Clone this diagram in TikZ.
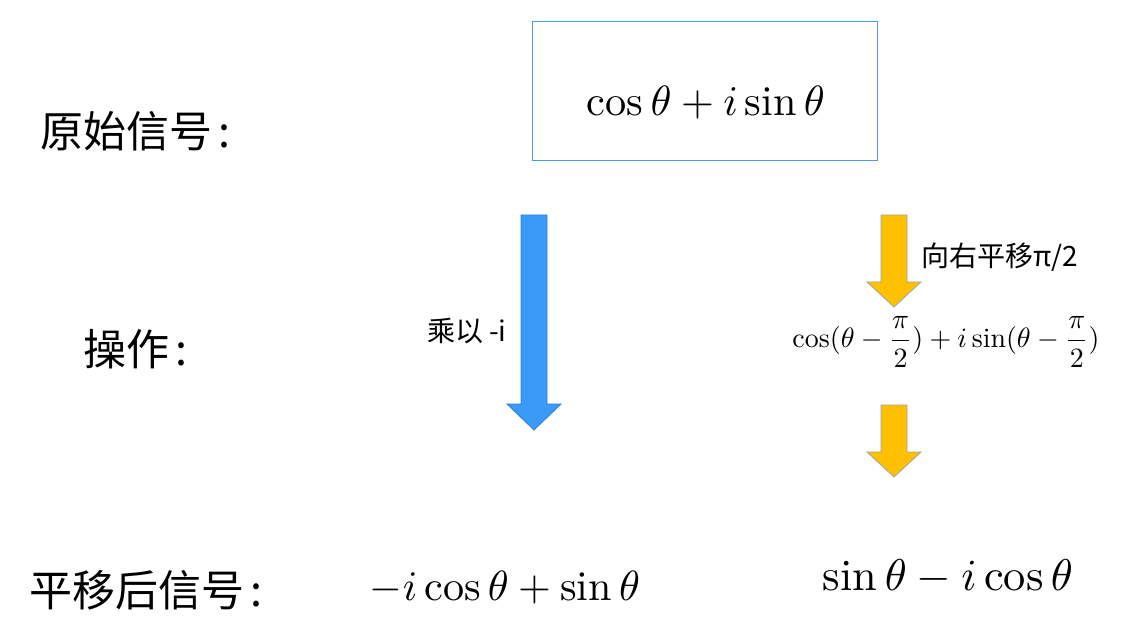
\documentclass[tikz,border=0pt]{standalone}
\usepackage{fontspec}
\newfontfamily\cjk{Noto Sans CJK SC}
\usepackage{graphicx}
\definecolor{boxblue}{HTML}{4A9AF0}
\definecolor{arrblue}{HTML}{3A9AF8}
\definecolor{arrblueedge}{HTML}{2F7FD6}
\definecolor{arryellow}{HTML}{FFC000}
\definecolor{arryellowedge}{HTML}{9AA5B1}
\newcommand{\lblcolon}{\hspace{7pt}:}
\begin{document}
\begin{tikzpicture}[x=1pt,y=-1pt,
  every node/.style={inner sep=0pt, outer sep=0pt},
  biglabel/.style={anchor=west, font=\cjk\fontsize{43}{48}\selectfont},
  smalllabel/.style={anchor=west, font=\cjk\fontsize{28}{32}\selectfont},
  blockblue/.style={fill=arrblue, draw=arrblueedge, line width=0.8pt, line join=miter},
  blockyellow/.style={fill=arryellow, draw=arryellowedge, line width=0.8pt, line join=miter},
  signalbox/.style={draw=boxblue, line width=1pt, minimum width=345pt, minimum height=139pt}
]
\useasboundingbox (0,0) rectangle (1130,636);

% labels on the left
\node[biglabel] (l1) at (40,131) {原始信号\lblcolon};
\node[biglabel] (l2) at (83,349) {操作\lblcolon};
\node[biglabel] (l3) at (29,590) {平移后信号\lblcolon};

% original signal box
\node[signalbox] (box) at (704.5,91.5) {};
\node (f0) at (706,103) {\resizebox{238pt}{!}{$\cos\theta + i\sin\theta$}};

% blue block arrow
\draw[blockblue] (521,215) -- (547,215) -- (547,404) -- (561,404) -- (534,430) -- (507,404) -- (521,404) -- cycle;
\node[smalllabel] (op1) at (427,331) {乘以 -i};

% yellow block arrows
\draw[blockyellow] (881,215) -- (907,215) -- (907,282) -- (921,282) -- (894,307) -- (867,282) -- (881,282) -- cycle;
\node[smalllabel] (op2) at (921,257) {向右平移π/2};
\node (fm) at (946,342) {\resizebox{307pt}{!}{$\displaystyle\cos(\theta-\frac{\pi}{2})+i\sin(\theta-\frac{\pi}{2})$}};
\draw[blockyellow] (881,405) -- (907,405) -- (907,452) -- (921,452) -- (894,477) -- (867,452) -- (881,452) -- cycle;

% results
\node (fl) at (505,588) {\resizebox{270pt}{!}{$-i\cos\theta+\sin\theta$}};
\node (fr) at (948,577) {\resizebox{250pt}{!}{$\sin\theta-i\cos\theta$}};
\end{tikzpicture}
\end{document}
